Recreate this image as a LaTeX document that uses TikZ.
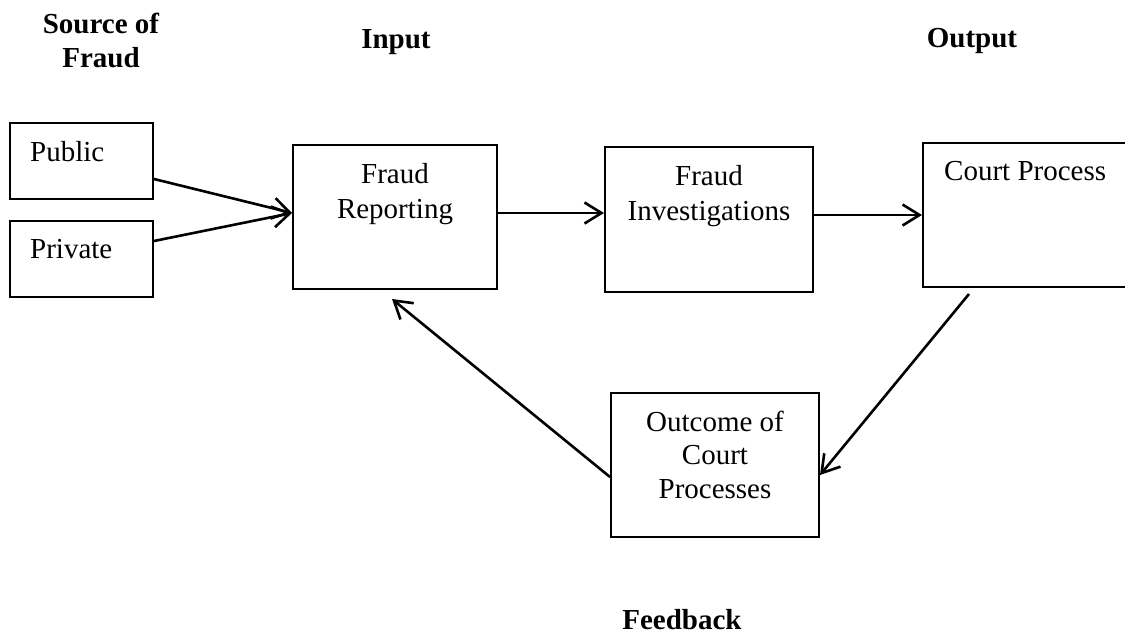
\documentclass[tikz,border=0pt]{standalone}
\usepackage{fontspec}
\setmainfont{Liberation Serif}
\usetikzlibrary{arrows.meta}
\begin{document}
\begin{tikzpicture}[x=1pt,y=-1pt,
  box/.style={draw, line width=2pt, rectangle, inner sep=0pt},
  lbl/.style={inner sep=0pt, font=\fontsize{29}{35}\selectfont, align=center, anchor=base},
  head/.style={lbl, font=\fontsize{29}{34}\selectfont\bfseries},
  link/.style={line width=2.6pt, -{Straight Barb[length=17pt,width=21pt]}}]
\clip (0,0) rectangle (1125,634);
\fill[white] (0,0) rectangle (1125,634);

% column headings (base anchor sits on the last line)
\node[head] (hsrc) at (101,67) {Source of\\Fraud};
\node[head] (hin)  at (396,49) {Input};
\node[head] (hout) at (972,48) {Output};
\node[head] (hfb)  at (682,629) {Feedback};

% process boxes
\node[box, minimum width=143pt, minimum height=76pt]  (pub) at (81.5,161) {};
\node[box, minimum width=143pt, minimum height=76pt]  (pri) at (81.5,259) {};
\node[box, minimum width=204pt, minimum height=144pt] (rep) at (395,217) {};
\node[box, minimum width=208pt, minimum height=145pt] (inv) at (709,219.5) {};
\node[box, minimum width=217pt, minimum height=144pt] (crt) at (1031.5,215) {};
\node[box, minimum width=208pt, minimum height=144pt] (out) at (715,465) {};

% box texts
\node[lbl, anchor=base west] (tpub) at (30,161) {Public};
\node[lbl, anchor=base west] (tpri) at (30,258) {Private};
\node[lbl] (trep) at (395,218) {Fraud\\Reporting};
\node[lbl] (tinv) at (709,220) {Fraud\\Investigations};
\node[lbl, anchor=base west] (tcrt) at (944,180) {Court Process};
\node[lbl, font=\fontsize{29}{33.5}\selectfont] (tout) at (715,498) {Outcome of\\Court\\Processes};

% connectors
\draw[link] ([yshift=-18pt]pub.east) -- ([yshift=4pt]rep.west);
\draw[link] ([yshift=18pt]pri.east) -- ([yshift=4pt]rep.west);
\draw[link] ([yshift=4pt]rep.east) -- ([yshift=4pt]rep.east -| inv.west);
\draw[link] ([yshift=4.5pt]inv.east) -- ([yshift=4.5pt]inv.east -| crt.west);
\draw[link] ([xshift=47pt,yshift=-6pt]crt.south west) -- ([yshift=-10pt]out.east);
\draw[link] ([yshift=-12pt]out.west) -- ([xshift=-3pt,yshift=-9pt]rep.south);
\end{tikzpicture}
\end{document}
